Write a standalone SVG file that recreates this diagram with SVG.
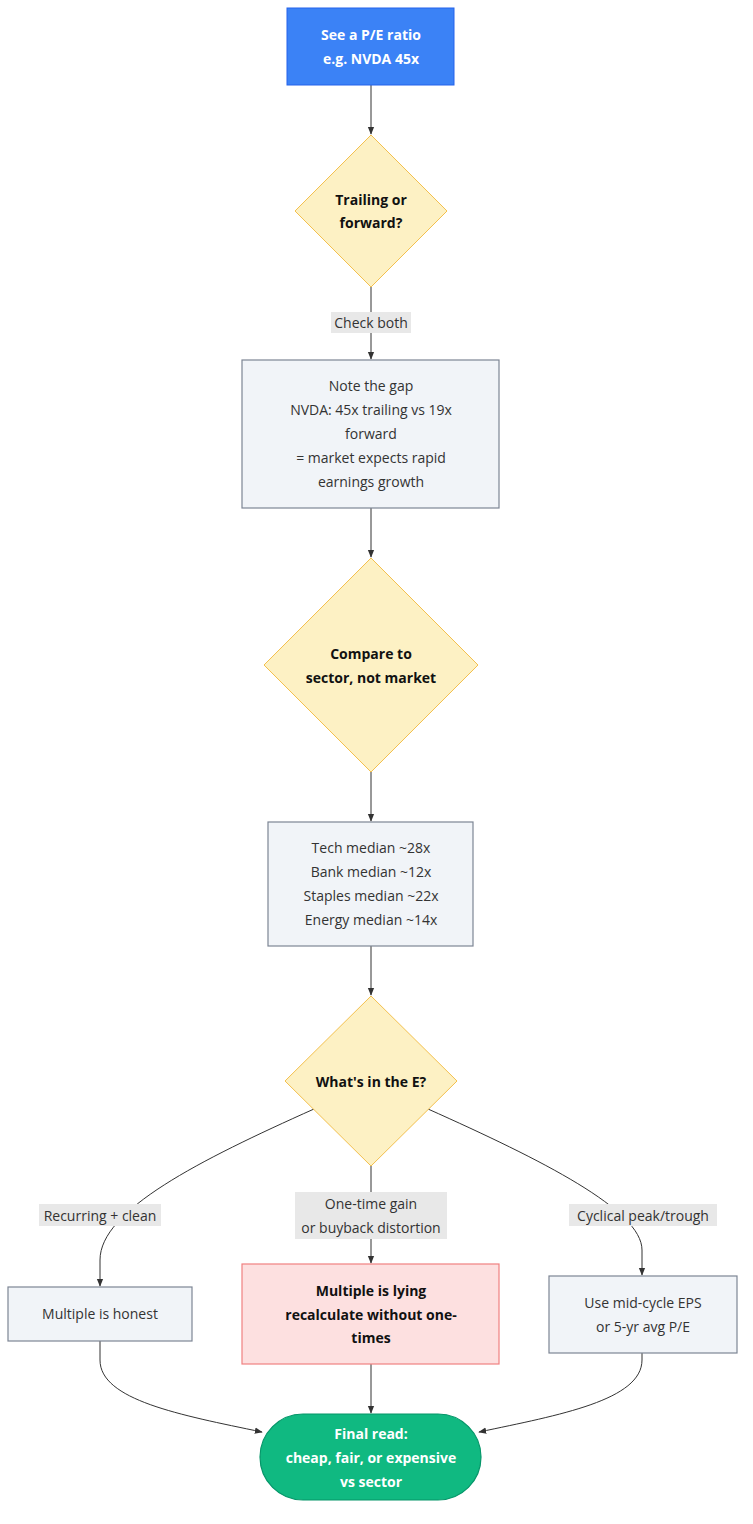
<svg xmlns="http://www.w3.org/2000/svg" width="753" height="1524" viewBox="0 0 753 1524">
<style>
text{font-family:"Open Sans","DejaVu Sans",sans-serif;font-size:14px;fill:#333;text-anchor:middle;dominant-baseline:central}
.b{font-weight:bold}
.w{fill:#fff;font-weight:bold}
.k{fill:#111;font-weight:bold}
.n{fill:#f1f4f8;stroke:#7d8594;stroke-width:1.2}
.d{fill:#fdf1c4;stroke:#f3c04e;stroke-width:1}
.e{fill:none;stroke:#333;stroke-width:1}
.lb{fill:#e8e8e8}
</style>
<defs><marker id="a" viewBox="0 0 10 10" refX="9" refY="5" markerWidth="8" markerHeight="8" orient="auto"><path d="M0,1L10,5L0,9z" fill="#333"/></marker></defs>
<g id="edges">
<path class="e" marker-end="url(#a)" d="M371,85V134"/>
<path class="e" marker-end="url(#a)" d="M371,287V359"/>
<path class="e" marker-end="url(#a)" d="M371,508V557"/>
<path class="e" marker-end="url(#a)" d="M371,772V821"/>
<path class="e" marker-end="url(#a)" d="M371,946V995"/>
<path class="e" marker-end="url(#a)" d="M314,1109C200,1160 100,1210 100,1260V1286"/>
<path class="e" marker-end="url(#a)" d="M371,1166V1263"/>
<path class="e" marker-end="url(#a)" d="M428,1109C542,1160 642,1210 642,1250V1275"/>
<path class="e" marker-end="url(#a)" d="M100,1341V1360C100,1400 180,1415 262,1432"/>
<path class="e" marker-end="url(#a)" d="M371,1364V1413"/>
<path class="e" marker-end="url(#a)" d="M642,1353V1360C642,1400 560,1415 479,1432"/>
<rect class="lb" x="331" y="312" width="80" height="21"/><text x="371" y="322">Check both</text>
<rect class="lb" x="39" y="1204" width="122" height="22"/><text x="100" y="1215">Recurring + clean</text>
<rect class="lb" x="295" y="1192" width="152" height="47"/><text x="371" y="1203">One-time gain</text><text x="371" y="1227">or buyback distortion</text>
<rect class="lb" x="569" y="1204" width="148" height="22"/><text x="643" y="1215">Cyclical peak/trough</text>
</g>
<g id="A"><rect x="287" y="8" width="167" height="77" fill="#3b82f6" stroke="#2563eb"/><text class="w" x="371" y="34">See a P/E ratio</text><text class="w" x="371" y="58">e.g. NVDA 45x</text></g>
<g id="B"><path class="d" d="M371,135L447,211L371,287L295,211z"/><text class="k" x="371" y="199">Trailing or</text><text class="k" x="371" y="222">forward?</text></g>
<g id="C"><rect class="n" x="242" y="360" width="257" height="148"/><text x="371" y="385">Note the gap</text><text x="371" y="409">NVDA: 45x trailing vs 19x</text><text x="371" y="433">forward</text><text x="371" y="457">= market expects rapid</text><text x="371" y="481">earnings growth</text></g>
<g id="D"><path class="d" d="M371,558L478,665L371,772L264,665z"/><text class="k" x="371" y="653">Compare to</text><text class="k" x="371" y="677">sector, not market</text></g>
<g id="E"><rect class="n" x="268" y="822" width="205" height="124"/><text x="371" y="847">Tech median ~28x</text><text x="371" y="871">Bank median ~12x</text><text x="371" y="895">Staples median ~22x</text><text x="371" y="919">Energy median ~14x</text></g>
<g id="F"><path class="d" d="M371,996L457,1081L371,1166L285,1081z"/><text class="k" x="371" y="1081">What's in the E?</text></g>
<g id="G"><rect class="n" x="8" y="1287" width="184" height="54"/><text x="100" y="1313">Multiple is honest</text></g>
<g id="H"><rect x="242" y="1264" width="257" height="100" fill="#fde0e0" stroke="#f08080" stroke-width="1.2"/><text class="k" x="371" y="1290">Multiple is lying</text><text class="k" x="371" y="1314">recalculate without one-</text><text class="k" x="371" y="1337">times</text></g>
<g id="I"><rect class="n" x="549" y="1276" width="188" height="77"/><text x="643" y="1302">Use mid-cycle EPS</text><text x="643" y="1326">or 5-yr avg P/E</text></g>
<g id="J"><rect x="260" y="1414" width="221" height="86" rx="43" fill="#10b981" stroke="#059669" stroke-width="1.2"/><text class="w" x="371" y="1433">Final read:</text><text class="w" x="371" y="1457">cheap, fair, or expensive</text><text class="w" x="371" y="1481">vs sector</text></g>
</svg>
